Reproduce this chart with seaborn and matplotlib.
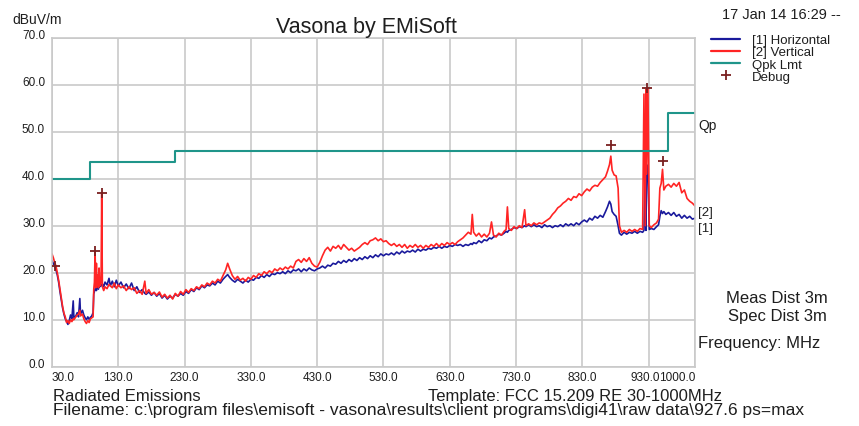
import matplotlib
matplotlib.use("Agg")
import matplotlib.pyplot as plt
from matplotlib.lines import Line2D
from matplotlib.transforms import ScaledTranslation
import pandas as pd
import seaborn as sns

# Scan data (MHz, dBuV/m)
freq_mhz = [
    30, 32, 34, 36, 38, 40, 42, 44, 46, 48, 50, 52, 54, 56, 58, 60, 62, 63, 66, 68,
    70, 72, 73, 76, 78, 80, 82, 84, 86, 88, 90, 92, 93, 94, 95, 96, 97, 98, 99, 100,
    101, 102, 104, 105, 106, 108, 110, 113, 116, 118, 121, 124, 127, 130, 134, 138, 142, 146, 150, 154,
    158, 162, 166, 170, 172, 176, 180, 184, 188, 192, 196, 200, 204, 208, 212, 216, 220, 224, 228, 232,
    236, 240, 244, 248, 252, 256, 260, 264, 268, 272, 276, 280, 284, 288, 292, 295, 298, 302, 306, 310,
    314, 318, 322, 326, 330, 334, 338, 342, 346, 350, 354, 358, 362, 366, 370, 374, 378, 382, 386, 390,
    394, 398, 402, 406, 410, 414, 418, 422, 426, 430, 434, 438, 442, 446, 450, 454, 458, 462, 466, 470,
    474, 478, 482, 486, 490, 494, 498, 502, 506, 510, 514, 518, 522, 526, 530, 534, 538, 542, 546, 550,
    554, 558, 562, 566, 570, 574, 578, 582, 586, 590, 594, 598, 602, 606, 610, 614, 618, 622, 626, 630,
    634, 638, 642, 646, 650, 654, 658, 662, 664, 666, 670, 674, 678, 682, 686, 690, 693, 696, 700, 704,
    708, 712, 715, 717, 719, 723, 727, 731, 735, 739, 743, 745, 749, 753, 757, 761, 765, 769, 773, 777,
    781, 785, 789, 793, 797, 801, 805, 809, 813, 817, 821, 825, 829, 833, 837, 841, 845, 849, 853, 857,
    861, 865, 868, 871, 873, 875, 878, 881, 884, 886, 889, 893, 897, 901, 905, 909, 913, 917, 921, 923,
    925, 926, 927, 929, 931, 934, 938, 942, 945, 947, 949, 951, 953, 956, 960, 964, 968, 972, 976, 980,
    984, 988, 992, 996, 1000,
]
horiz_dbuv = [
    22.5, 22.0, 21.4, 20.6, 19.5, 18.0, 16.0, 14.2, 12.5, 11.2, 10.2, 9.6, 9.0, 9.8, 11.0, 10.2, 14.0, 10.5, 10.8, 11.5,
    10.6, 14.5, 11.2, 12.0, 11.0, 10.4, 10.0, 10.6, 10.1, 10.5, 10.8, 11.5, 15.5, 16.0, 16.5, 17.0, 16.2, 17.2, 16.8, 16.5,
    17.4, 17.0, 17.5, 17.2, 17.6, 17.0, 18.0, 17.4, 18.8, 17.2, 18.2, 17.0, 18.4, 17.2, 18.0, 16.8, 17.6, 16.6, 17.8, 16.2,
    17.0, 15.8, 16.4, 15.6, 15.4, 15.9, 15.2, 15.8, 15.0, 15.6, 14.6, 15.2, 14.4, 15.0, 14.6, 15.4, 15.0, 15.6, 15.2, 16.0,
    15.6, 16.4, 16.0, 16.8, 16.4, 17.2, 16.8, 17.4, 17.2, 17.8, 17.4, 18.2, 17.8, 18.6, 19.2, 19.6, 19.0, 18.4, 18.0, 18.6,
    18.2, 17.8, 18.4, 18.0, 18.6, 18.4, 19.0, 18.8, 19.4, 19.0, 19.6, 19.2, 19.8, 19.6, 20.0, 19.8, 20.2, 19.8, 20.4, 20.0,
    20.6, 20.4, 20.8, 20.2, 20.8, 20.4, 21.0, 20.6, 20.4, 20.8, 21.0, 21.4, 21.0, 21.6, 21.4, 22.0, 21.8, 22.4, 22.0, 22.6,
    22.2, 22.8, 22.4, 23.0, 22.6, 23.2, 22.8, 23.4, 23.0, 23.6, 23.2, 23.8, 23.4, 24.0, 23.6, 24.0, 23.8, 24.2, 23.8, 24.4,
    24.0, 24.6, 24.2, 24.6, 24.4, 24.8, 24.4, 25.0, 24.6, 25.0, 24.8, 25.2, 25.0, 25.4, 25.2, 25.6, 25.2, 25.6, 25.4, 25.8,
    25.6, 26.0, 25.8, 26.0, 25.6, 26.0, 25.8, 26.2, 26.0, 26.4, 26.2, 26.8, 26.4, 27.0, 26.8, 27.4, 27.2, 27.6, 27.8, 28.2,
    28.0, 28.4, 28.8, 28.6, 29.0, 29.2, 29.6, 29.4, 29.8, 29.6, 30.0, 29.8, 30.2, 29.8, 30.2, 29.8, 30.0, 29.6, 30.2, 29.8,
    30.0, 29.6, 30.0, 29.8, 30.2, 29.8, 30.4, 30.0, 30.4, 30.0, 30.6, 30.2, 30.8, 31.2, 30.8, 31.6, 31.2, 32.0, 31.6, 32.2,
    31.8, 33.0, 34.0, 35.2, 34.6, 33.0, 32.4, 32.0, 30.0, 28.4, 28.0, 28.6, 28.2, 28.6, 28.4, 28.8, 28.4, 28.8, 28.6, 29.0,
    42.0, 29.0, 43.0, 41.0, 29.2, 29.4, 29.2, 29.8, 30.2, 32.0, 33.2, 32.6, 33.0, 32.4, 32.8, 32.2, 32.8, 32.0, 32.4, 31.6,
    32.2, 31.6, 32.0, 31.4, 31.6,
]
vert_dbuv = [
    24.0, 23.2, 22.2, 21.4, 20.0, 18.4, 16.5, 14.6, 12.8, 11.4, 10.6, 9.4, 9.8, 9.2, 10.0, 9.6, 10.2, 10.0, 10.6, 11.0,
    11.2, 12.0, 10.8, 11.2, 10.2, 9.6, 9.2, 9.8, 9.4, 10.2, 10.4, 10.6, 16.5, 18.0, 24.5, 16.8, 22.0, 17.4, 19.5, 16.8,
    21.0, 17.2, 18.0, 37.0, 17.0, 16.2, 17.0, 16.6, 17.5, 17.2, 16.8, 17.8, 16.6, 17.4, 16.8, 17.2, 16.2, 17.0, 16.4, 16.8,
    15.6, 16.2, 15.4, 18.2, 15.6, 16.4, 15.4, 15.8, 15.2, 15.9, 14.8, 15.4, 14.6, 15.2, 14.4, 15.6, 15.0, 16.0, 15.4, 16.4,
    15.8, 16.6, 16.2, 17.0, 16.6, 17.4, 17.0, 17.8, 17.4, 18.2, 17.8, 18.6, 18.2, 19.4, 20.6, 22.0, 20.8, 19.4, 18.6, 19.2,
    18.4, 18.8, 18.2, 19.0, 18.6, 19.4, 19.0, 19.8, 19.4, 20.2, 19.8, 20.4, 20.0, 20.8, 20.4, 21.0, 20.6, 21.2, 20.8, 21.4,
    21.0, 22.4, 22.8, 22.2, 23.0, 22.4, 23.2, 22.0, 21.4, 21.2, 22.2, 23.6, 24.8, 25.4, 24.6, 25.6, 25.2, 25.8, 25.0, 26.0,
    25.4, 24.8, 25.2, 24.6, 25.0, 25.4, 26.0, 26.4, 26.0, 26.8, 27.0, 27.4, 26.8, 27.2, 26.6, 26.8, 26.2, 25.8, 26.2, 25.6,
    26.0, 25.4, 26.0, 25.2, 25.8, 25.4, 26.0, 25.4, 25.8, 25.2, 25.8, 25.4, 26.0, 25.6, 26.2, 25.6, 26.2, 25.8, 26.4, 26.0,
    26.4, 26.0, 26.6, 27.0, 27.4, 28.0, 28.6, 28.2, 32.4, 28.6, 27.8, 28.4, 27.6, 28.2, 27.6, 28.4, 30.8, 28.0, 27.6, 28.4,
    28.0, 28.8, 29.2, 34.0, 29.4, 29.0, 29.8, 29.4, 30.0, 29.6, 33.4, 30.0, 30.4, 30.0, 30.6, 30.2, 30.6, 30.4, 30.8, 31.2,
    31.6, 32.4, 33.0, 33.8, 34.2, 34.8, 35.2, 35.8, 35.4, 36.2, 36.0, 36.8, 36.4, 37.2, 37.8, 37.4, 38.2, 38.6, 38.4, 39.2,
    39.8, 40.4, 41.6, 43.0, 44.8, 41.8, 40.8, 40.6, 38.0, 30.0, 28.6, 29.0, 28.6, 29.2, 28.8, 29.2, 28.8, 29.4, 29.2, 58.0,
    30.0, 59.0, 41.0, 59.3, 30.0, 29.6, 30.2, 30.6, 31.4, 38.0, 39.0, 42.0, 37.6, 38.4, 38.8, 38.2, 39.0, 38.4, 39.2, 37.0,
    37.6, 35.8, 35.2, 34.8, 34.2,
]

# FCC 15.209 quasi-peak limit (3 m)
limit_freq = [30, 88, 216, 960, 1000]
limit_dbuv = [40.0, 43.5, 46.0, 54.0, 54.0]

# Debug markers
debug_freq = [35, 95, 105, 874, 928, 951]
debug_dbuv = [21.4, 24.6, 37.0, 47.2, 59.3, 43.7]

x_ticks = [30, 130, 230, 330, 430, 530, 630, 730, 830, 930, 1000]
y_ticks = [0, 10, 20, 30, 40, 50, 60, 70]

BLUE = '#1a1a9c'
RED = '#ff2424'
TEAL = '#1f958a'
DEBUG = '#7a2020'
GRID = '#c9c9c9'
TXT = '#1e1e1e'

sns.set_theme(style="white")
plt.rcParams['font.family'] = ['Liberation Sans', 'DejaVu Sans']

W, H = 859, 427
fig = plt.figure(figsize=(W / 100, H / 100), dpi=100)
ax = fig.add_axes([52 / W, 1 - 367.7 / H, (695 - 52) / W, (367.7 - 38.7) / H])

df = pd.DataFrame({'freq': freq_mhz, 'horiz': horiz_dbuv, 'vert': vert_dbuv})
sns.lineplot(data=df, x='freq', y='horiz', color=BLUE, lw=1.2, estimator=None, sort=False, ax=ax)
sns.lineplot(data=df, x='freq', y='vert', color=RED, lw=1.2, estimator=None, sort=False, ax=ax)
sns.lineplot(x=limit_freq, y=limit_dbuv, color=TEAL, lw=1.5, drawstyle='steps-post', ax=ax)
sns.scatterplot(x=debug_freq, y=debug_dbuv, marker='+', s=60, color=DEBUG, linewidth=1.3, zorder=5, ax=ax)

ax.set_xlim(30, 1000)
ax.set_ylim(0, 70)
ax.set_xticks(x_ticks)
ax.set_xticklabels([f"{t:.1f}" for t in x_ticks], fontsize=8.5)
ax.set_yticks(y_ticks)
ax.set_yticklabels([f"{t:.1f}" for t in y_ticks], fontsize=8.5)
ax.set_xlabel('')
ax.set_ylabel('')
ax.tick_params(axis='x', length=0, pad=3, colors=TXT)
ax.tick_params(axis='y', length=0, pad=5, colors=TXT)
ax.grid(True, color=GRID, lw=1.2)
ax.set_axisbelow(True)
for s in ax.spines.values():
    s.set_color(GRID)
    s.set_linewidth(1.2)

# nudge y labels up a bit, keep end x labels inside
up = ScaledTranslation(0, 0.04, fig.dpi_scale_trans)
for lab in ax.get_yticklabels():
    lab.set_transform(lab.get_transform() + up)
xl = ax.get_xticklabels()
xl[0].set_ha('left')
xl[-1].set_ha('right')
xl[-2].set_transform(xl[-2].get_transform() + ScaledTranslation(-0.03, 0, fig.dpi_scale_trans))

# legend
handles = [
    Line2D([], [], color=BLUE, lw=1.6),
    Line2D([], [], color=RED, lw=1.6),
    Line2D([], [], color=TEAL, lw=1.6),
    Line2D([], [], color=DEBUG, lw=0, marker='+', markersize=7, markeredgewidth=1.3),
]
labels = ['[1] Horizontal', '[2] Vertical', 'Qpk Lmt', 'Debug']
fig.legend(handles, labels, loc='upper left', bbox_to_anchor=(711 / W, 1 - 35 / H),
           frameon=False, fontsize=9.5, handlelength=2.2, handletextpad=0.9,
           labelspacing=0.0, borderpad=0, borderaxespad=0, labelcolor=TXT)

def ftext(x, y, s, **kw):
    kw.setdefault('va', 'center')
    kw.setdefault('color', TXT)
    fig.text(x / W, 1 - y / H, s, **kw)

ftext(12, 20, 'dBuV/m', fontsize=10)
ftext(366, 28, 'Vasona by EMiSoft', fontsize=15.5, ha='center')
ftext(722, 15, '17 Jan 14 16:29 --', fontsize=10.5)
ftext(698, 126, 'Qp', fontsize=10)
ftext(698, 213, '[2]', fontsize=9.5)
ftext(698, 229, '[1]', fontsize=9.5)
ftext(777, 299, 'Meas Dist 3m', fontsize=12, ha='center')
ftext(777, 316, 'Spec Dist 3m', fontsize=12, ha='center')
ftext(698, 344, 'Frequency: MHz', fontsize=12)
ftext(53, 397, 'Radiated Emissions', fontsize=12)
ftext(428, 397, 'Template: FCC 15.209 RE 30-1000MHz', fontsize=12)
ftext(53, 411, 'Filename: c:\\program files\\emisoft - vasona\\results\\client programs'
               '\\digi41\\raw data\\927.6 ps=max', fontsize=12.5)

fig.savefig('out.png', dpi=100)
